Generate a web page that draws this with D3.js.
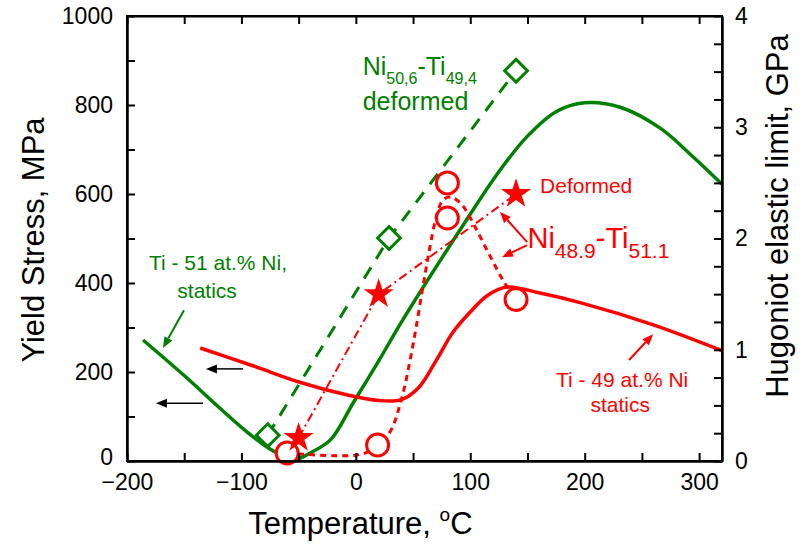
<!DOCTYPE html>
<html>
<head>
<meta charset="utf-8">
<script src="https://cdn.jsdelivr.net/npm/d3@7"></script>
<style>
  html, body { margin: 0; padding: 0; background: #fff; }
  svg { display: block; }
  text { font-family: Arial, "Liberation Sans", Helvetica, sans-serif; }
</style>
</head>
<body>
<svg id="chart" width="807" height="557"></svg>
<script>
// ---- data (temperature in °C, stress in MPa) ----
const tempTicks = [-200, -100, 0, 100, 200, 300];
const tempMinorTicks = [-150, -50, 50, 150, 250];
const stressTicks = [0, 200, 400, 600, 800, 1000];
const stressMinorTicks = [100, 300, 500, 700, 900];
const gpaTicks = [0, 1, 2, 3, 4];
const gpaMinorTicks = [0.25, 0.5, 0.75, 1.25, 1.5, 1.75, 2.25, 2.5, 2.75, 3.25, 3.5, 3.75];

// Ti - 51 at.% Ni, statics (green solid)
const ti51Statics = [
  [-186, 272], [-150, 192], [-119, 119], [-95, 65], [-75, 27], [-62, 10], [-52, 4],
  [-40, 18], [-22, 48], [-2, 132], [20, 225], [41, 317], [90, 515], [125, 650],
  [150, 730], [175, 785], [200, 805], [231, 795], [266, 748], [292, 690], [320, 622]
];
// Ti - 49 at.% Ni, statics (red solid)
const ti49Statics = [
  [-136, 254], [-90, 214], [-49, 177], [-10, 150], [20, 136], [40, 138], [55, 165],
  [70, 225], [85, 290], [100, 335], [115, 372], [132, 391], [160, 378], [196, 356],
  [260, 306], [320, 248]
];
// Ni50,6-Ti49,4 deformed, Hugoniot elastic limit (green diamonds)
const ni506Deformed = [[-77, 58], [29, 501], [140, 877]];
// Ni48.9-Ti51.1 deformed (red stars)
const ni489Deformed = [[-50, 52], [20, 375], [140, 600]];
// Ni48.9-Ti51.1 (red circles)
const ni489Points = [[-60, 18], [19, 36], [80, 625], [80, 546], [140, 363]];
// trend through the Ni48.9-Ti51.1 points (red short-dashed)
const ni489Trend = [
  [-60, 18], [-50, 16], [-20, 12], [0, 13], [12, 22], [19, 36], [30, 66], [40, 140],
  [50, 262], [58, 382], [64, 470], [70, 545], [76, 586], [83, 593], [92, 578],
  [104, 527], [117, 462], [130, 400], [140, 363]
];

const green = "#008000";
const red = "#ff0000";

const svg = d3.select("#chart");
const W = 807, H = 557;
const margin = { left: 127, right: W - 722, top: 16, bottom: H - 461 };
const iw = W - margin.left - margin.right;
const ih = H - margin.top - margin.bottom;

const x = d3.scaleLinear().domain([-200, 320]).range([margin.left, margin.left + iw]);
const y = d3.scaleLinear().domain([0, 1000]).range([margin.top + ih, margin.top]);
const y2 = d3.scaleLinear().domain([0, 4]).range([margin.top + ih, margin.top]);

const line = d3.line().x(d => x(d[0])).y(d => y(d[1]));
const smooth = d3.line().x(d => x(d[0])).y(d => y(d[1])).curve(d3.curveCatmullRom.alpha(0.5));

const plot = svg.append("g");

// curves
plot.append("path").datum(ti51Statics).attr("d", smooth)
  .attr("fill", "none").attr("stroke", green).attr("stroke-width", 3.5);
plot.append("path").datum(ti49Statics).attr("d", smooth)
  .attr("fill", "none").attr("stroke", red).attr("stroke-width", 3.5);
plot.append("path").datum(ni506Deformed).attr("d", line)
  .attr("fill", "none").attr("stroke", green).attr("stroke-width", 3)
  .attr("stroke-dasharray", "13,10");
plot.append("path").datum(ni489Trend).attr("d", smooth)
  .attr("fill", "none").attr("stroke", red).attr("stroke-width", 3)
  .attr("stroke-dasharray", "6,5");
plot.append("path").datum(ni489Deformed).attr("d", line)
  .attr("fill", "none").attr("stroke", red).attr("stroke-width", 2)
  .attr("stroke-dasharray", "9,4,2,4");

// markers
plot.selectAll(".diamond").data(ni506Deformed).join("path")
  .attr("transform", d => `translate(${x(d[0])},${y(d[1])})`)
  .attr("d", d3.symbol(d3.symbolDiamond2, 330))
  .attr("fill", "#fff").attr("stroke", green).attr("stroke-width", 3);
plot.selectAll(".circ").data(ni489Points).join("circle")
  .attr("cx", d => x(d[0])).attr("cy", d => y(d[1])).attr("r", 11)
  .attr("fill", "#fff").attr("stroke", red).attr("stroke-width", 3);
plot.selectAll(".star").data(ni489Deformed).join("path")
  .attr("transform", d => `translate(${x(d[0])},${y(d[1])})`)
  .attr("d", d3.symbol(d3.symbolStar, 280))
  .attr("fill", red);

// axes
const tickLen = 8;
function axisGroup(gen, tx, ty) {
  const g = svg.append("g").attr("transform", `translate(${tx},${ty})`).call(gen);
  g.selectAll("line").attr("stroke", "#000").attr("stroke-width", 2);
  g.select(".domain").attr("stroke", "#000").attr("stroke-width", 2);
  g.selectAll("text").attr("font-size", 23).attr("fill", "#000")
    .attr("font-family", "Arial, 'Liberation Sans', sans-serif");
  return g;
}
const bottomY = margin.top + ih, rightX = margin.left + iw;
axisGroup(d3.axisBottom(x).tickValues(tempTicks).tickSize(-tickLen).tickSizeOuter(0).tickPadding(13).tickFormat(d3.format("d")), 0, bottomY);
axisGroup(d3.axisBottom(x).tickValues(tempMinorTicks).tickSize(-tickLen).tickSizeOuter(0).tickFormat(""), 0, bottomY);
axisGroup(d3.axisTop(x).tickValues(tempTicks.concat(tempMinorTicks)).tickSize(-tickLen).tickSizeOuter(0).tickFormat(""), 0, margin.top);
const leftAxis = axisGroup(d3.axisLeft(y).tickValues(stressTicks).tickSize(-tickLen).tickSizeOuter(0).tickPadding(14).tickFormat(d3.format("d")), margin.left, 0);
// lift the "0" label a little so it clears the "-200" label below it
leftAxis.selectAll(".tick text").filter(d => d === 0).attr("dy", "0.15em");
axisGroup(d3.axisLeft(y).tickValues(stressMinorTicks).tickSize(-tickLen).tickSizeOuter(0).tickFormat(""), margin.left, 0);
axisGroup(d3.axisRight(y2).tickValues(gpaTicks).tickSize(-tickLen).tickSizeOuter(0).tickPadding(13).tickFormat(d3.format("d")), rightX, 0);
axisGroup(d3.axisRight(y2).tickValues(gpaMinorTicks).tickSize(-tickLen).tickSizeOuter(0).tickFormat(""), rightX, 0);

// frame
svg.append("rect").attr("x", margin.left).attr("y", margin.top)
  .attr("width", iw).attr("height", ih)
  .attr("fill", "none").attr("stroke", "#000").attr("stroke-width", 2);

// axis titles
const xt = svg.append("text").attr("x", x(4)).attr("y", 534)
  .attr("text-anchor", "middle").attr("font-size", 31);
xt.append("tspan").text("Temperature, ");
xt.append("tspan").attr("font-size", 19).attr("dy", -13).text("o");
xt.append("tspan").attr("dy", 13).text("C");

svg.append("text").attr("transform", `translate(44,240) rotate(-90)`)
  .attr("text-anchor", "middle").attr("font-size", 31).text("Yield Stress, MPa");
svg.append("text").attr("transform", `translate(788,216) rotate(-90)`)
  .attr("text-anchor", "middle").attr("font-size", 31).text("Hugoniot elastic limit, GPa");

// annotations
function label(parts, t, s, color, anchor) {
  const el = svg.append("text").attr("x", x(t)).attr("y", y(s)).attr("fill", color)
    .attr("text-anchor", anchor || "start");
  let base = 0;
  parts.forEach(p => {
    const shift = p.sub ? p.sub : 0;
    el.append("tspan").attr("font-size", p.size).attr("dy", shift - base).text(p.text);
    base = shift;
  });
  return el;
}
label([{ text: "Ni", size: 25 }, { text: "50,6", size: 16, sub: 9 }, { text: "-Ti", size: 25 }, { text: "49,4", size: 16, sub: 9 }],
  6, 867, green);
label([{ text: "deformed", size: 25 }], 6, 789, green);
label([{ text: "Deformed", size: 21 }], 161, 602, red);
label([{ text: "Ni", size: 29 }, { text: "48.9", size: 21, sub: 10 }, { text: "-Ti", size: 29 }, { text: "51.1", size: 21, sub: 10 }],
  150, 479, red);
label([{ text: "Ti - 51 at.% Ni,", size: 21 }], -120.5, 429, green, "middle");
label([{ text: "statics", size: 21 }], -130, 366, green, "middle");
label([{ text: "Ti - 49 at.% Ni", size: 21 }], 232.7, 166, red, "middle");
label([{ text: "statics", size: 21 }], 231, 110, red, "middle");

// arrows: [from, to] in data units
function arrow(from, to, color, width) {
  const x1 = x(from[0]), y1 = y(from[1]), x2 = x(to[0]), y2p = y(to[1]);
  const ang = Math.atan2(y2p - y1, x2 - x1);
  const hl = 11, hw = 4.5;
  const bx = x2 - hl * Math.cos(ang), by = y2p - hl * Math.sin(ang);
  svg.append("line").attr("x1", x1).attr("y1", y1).attr("x2", bx).attr("y2", by)
    .attr("stroke", color).attr("stroke-width", width);
  const px = -Math.sin(ang) * hw, py = Math.cos(ang) * hw;
  svg.append("path")
    .attr("d", `M${x2},${y2p}L${bx + px},${by + py}L${bx - px},${by - py}Z`)
    .attr("fill", color);
}
arrow([-150.2, 339], [-168.5, 254], green, 2);
arrow([-98.6, 207], [-131, 207], "#000", 1.5);
arrow([-133.6, 130], [-174.7, 130], "#000", 1.5);
arrow([238.8, 227], [259.8, 285], red, 2);
arrow([149.7, 492], [126, 560], red, 2);
arrow([149.7, 485], [127.8, 458], red, 2);
</script>
</body>
</html>
